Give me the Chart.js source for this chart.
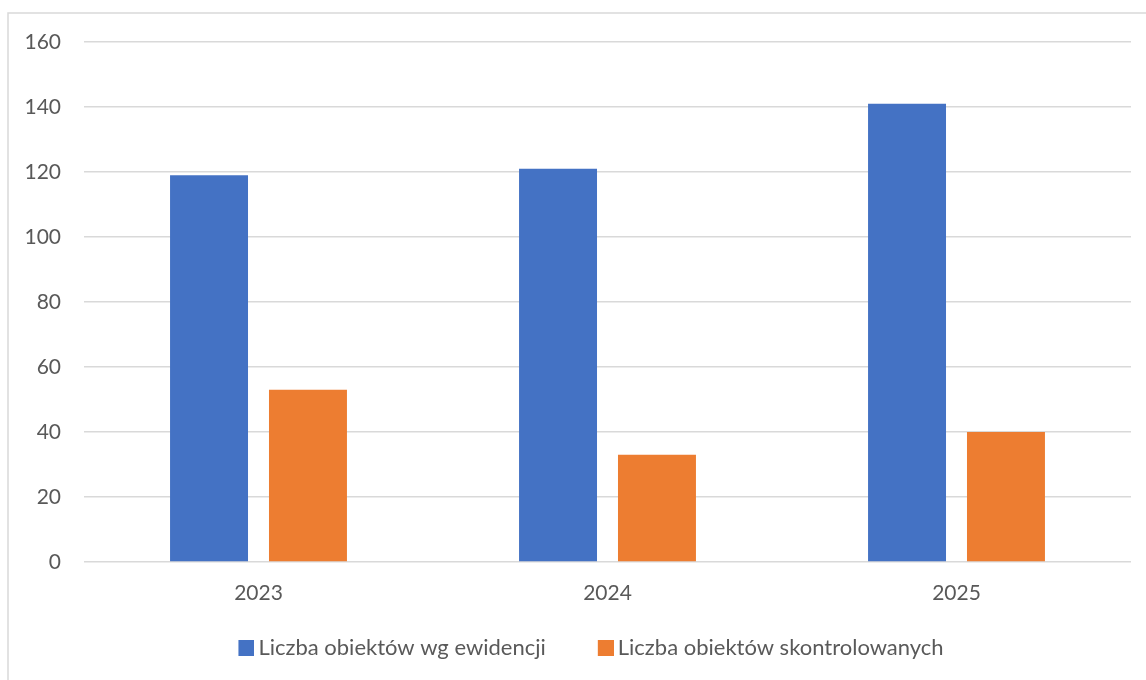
<!DOCTYPE html>
<html>
<head>
<meta charset="utf-8">
<style>
  html, body { margin: 0; padding: 0; background: #ffffff; }
  #wrap { position: relative; width: 1146px; height: 680px; }
</style>
<script src="https://cdn.jsdelivr.net/npm/chart.js@4/dist/chart.umd.min.js"></script>
</head>
<body>
<div id="wrap"><canvas id="chart" width="1146" height="680"></canvas></div>
<script>
const years = ['2023', '2024', '2025'];
const ewidencja = [119, 121, 141];
const skontrolowane = [53, 33, 40];
const yTicks = { min: 0, max: 160, step: 20 };
const seriesNames = ['Liczba obiektów wg ewidencji', 'Liczba obiektów skontrolowanych'];
const seriesColors = ['#4472C4', '#ED7D31'];

const TEXT = '#595959';
const GRID = '#d9d9d9';
const FONT = 'Lato, "Open Sans", sans-serif';

// legend marker: a 16px square sitting at the right end of a wider transparent strip,
// so each legend entry gets extra lead-in space before its square
const MARK_W = 65, MARK_SQ = 16;
function legendMarker(color) {
  const c = document.createElement('canvas');
  c.width = MARK_W;
  c.height = MARK_SQ;
  const g = c.getContext('2d');
  g.fillStyle = color;
  g.fillRect(MARK_W - MARK_SQ, 0, MARK_SQ, MARK_SQ);
  return c;
}
const markers = seriesColors.map(legendMarker);

// thin frame along the left and top edges of the chart block
const framePlugin = {
  id: 'frame',
  beforeDraw(chart) {
    const ctx = chart.ctx;
    ctx.save();
    ctx.strokeStyle = GRID;
    ctx.lineWidth = 1.5;
    ctx.beginPath();
    ctx.moveTo(8, chart.height);
    ctx.lineTo(8, 13);
    ctx.lineTo(chart.width, 13);
    ctx.stroke();
    ctx.restore();
  }
};

// centre the legend row slightly right of the canvas middle
const legendShift = {
  id: 'legendShift',
  afterLayout(chart) {
    const lg = chart.legend;
    if (!lg) return;
    lg.left = 0;
    lg.right = 1140;
  }
};

new Chart(document.getElementById('chart'), {
  type: 'bar',
  data: {
    labels: years,
    datasets: [
      { label: seriesNames[0], data: ewidencja, backgroundColor: seriesColors[0] },
      { label: seriesNames[1], data: skontrolowane, backgroundColor: seriesColors[1] }
    ]
  },
  options: {
    responsive: false,
    animation: false,
    devicePixelRatio: 1,
    datasets: { bar: { categoryPercentage: 0.567, barPercentage: 0.788 } },
    layout: { padding: { left: 0, right: 15, top: 42, bottom: 11 } },
    scales: {
      x: {
        grid: { display: false, drawTicks: false },
        border: { display: false },
        ticks: { color: TEXT, font: { family: FONT, size: 21 }, padding: 19 },
        afterFit(axis) { axis.height = 65; }
      },
      y: {
        min: yTicks.min,
        max: yTicks.max,
        grid: { color: GRID, lineWidth: 1.5, drawTicks: false },
        border: { display: false },
        ticks: { stepSize: yTicks.step, color: TEXT, font: { family: FONT, size: 21 }, padding: 23 },
        afterFit(axis) { axis.width = 84; }
      }
    },
    plugins: {
      legend: {
        position: 'bottom',
        align: 'center',
        labels: {
          color: TEXT,
          font: { family: FONT, size: 22 },
          usePointStyle: true,
          pointStyleWidth: 51,
          boxHeight: 16,
          padding: 10,
          generateLabels(chart) {
            const items = Chart.defaults.plugins.legend.labels.generateLabels(chart);
            items.forEach((it, i) => { it.pointStyle = markers[i]; });
            return items;
          }
        }
      },
      tooltip: { enabled: false }
    }
  },
  plugins: [framePlugin, legendShift]
});
</script>
</body>
</html>
